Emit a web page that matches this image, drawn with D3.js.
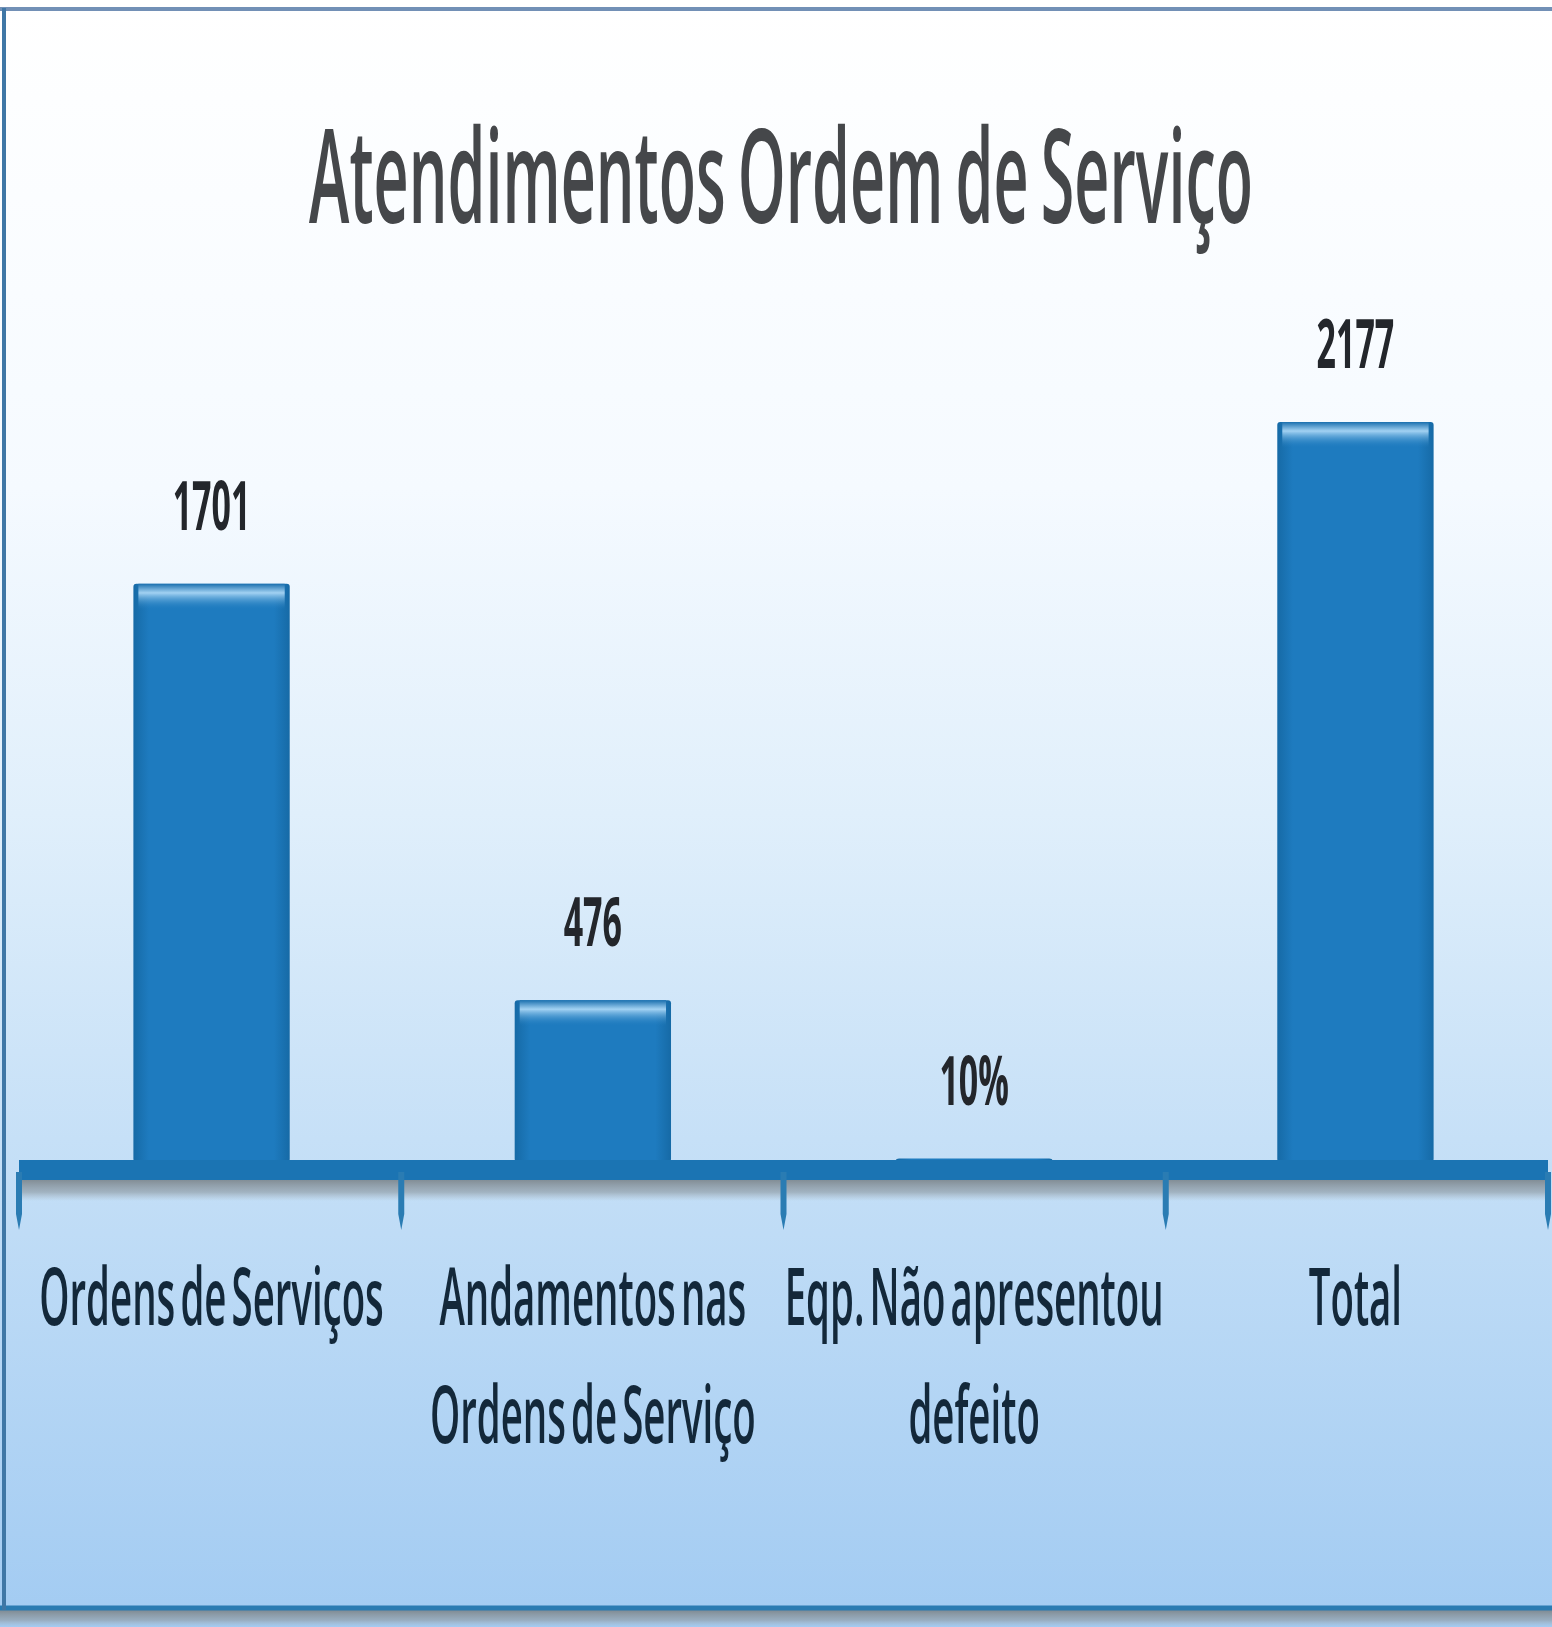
<!DOCTYPE html>
<html>
<head>
<meta charset="utf-8">
<script src="https://cdn.jsdelivr.net/npm/d3@7"></script>
<style>
  html, body { margin: 0; padding: 0; background: #fff; }
  svg { display: block; }
</style>
</head>
<body>
<div id="chart"></div>
<script>
const W = 1552, H = 1627;

// data
const categories = ["Ordens de Serviços", "Andamentos nas Ordens de Serviço", "Eqp. Não apresentou defeito", "Total"];
const categoryLines = [["Ordens de Serviços"], ["Andamentos nas", "Ordens de Serviço"], ["Eqp. Não apresentou", "defeito"], ["Total"]];
const values = [1701, 476, 10, 2177];
const valueLabels = ["1701", "476", "10%", "2177"];
const title = "Atendimentos Ordem de Serviço";

const svg = d3.select("#chart").append("svg")
    .attr("width", W)
    .attr("height", H);

const defs = svg.append("defs");

const bg = defs.append("linearGradient").attr("id", "bg")
    .attr("x1", 0).attr("y1", 0).attr("x2", 0).attr("y2", 1);
bg.append("stop").attr("offset", "0").attr("stop-color", "#ffffff");
bg.append("stop").attr("offset", "0.3").attr("stop-color", "#f5faff");
bg.append("stop").attr("offset", "0.5").attr("stop-color", "#e0effb");
bg.append("stop").attr("offset", "0.7").attr("stop-color", "#c6e0f7");
bg.append("stop").attr("offset", "1").attr("stop-color", "#a2cbf2");

const barGrad = defs.append("linearGradient").attr("id", "barGrad")
    .attr("x1", 0).attr("y1", 0).attr("x2", 1).attr("y2", 0);
barGrad.append("stop").attr("offset", "0").attr("stop-color", "#166aa6");
barGrad.append("stop").attr("offset", "0.1").attr("stop-color", "#1e7bbf");
barGrad.append("stop").attr("offset", "0.9").attr("stop-color", "#1e7bbf");
barGrad.append("stop").attr("offset", "1").attr("stop-color", "#166aa6");

const bevel = defs.append("linearGradient").attr("id", "bevel")
    .attr("x1", 0).attr("y1", 0).attr("x2", 0).attr("y2", 1);
bevel.append("stop").attr("offset", "0").attr("stop-color", "#1a6fae").attr("stop-opacity", 1);
bevel.append("stop").attr("offset", "0.35").attr("stop-color", "#a9d6f5").attr("stop-opacity", 0.95);
bevel.append("stop").attr("offset", "1").attr("stop-color", "#1e7bbf").attr("stop-opacity", 0);

const shadow = defs.append("linearGradient").attr("id", "shadow")
    .attr("x1", 0).attr("y1", 0).attr("x2", 0).attr("y2", 1);
shadow.append("stop").attr("offset", "0").attr("stop-color", "#7f8a92").attr("stop-opacity", 1);
shadow.append("stop").attr("offset", "0.6").attr("stop-color", "#93a0aa").attr("stop-opacity", 0.7);
shadow.append("stop").attr("offset", "1").attr("stop-color", "#a6b3bd").attr("stop-opacity", 0);

// background + frame
svg.append("rect").attr("width", W).attr("height", H).attr("fill", "url(#bg)");
svg.append("rect").attr("x", 0).attr("y", 1610).attr("width", W).attr("height", 17).attr("fill", "url(#shadow)");
svg.append("line").attr("x1", 0).attr("x2", W).attr("y1", 1608).attr("y2", 1608)
    .attr("stroke", "#2a7bb2").attr("stroke-width", 5);
svg.append("line").attr("x1", 0).attr("x2", W).attr("y1", 9).attr("y2", 9)
    .attr("stroke", "#7290b6").attr("stroke-width", 4);
svg.append("line").attr("x1", 4).attr("x2", 4).attr("y1", 8).attr("y2", 1610)
    .attr("stroke", "#3f77a6").attr("stroke-width", 4);

// scales
const x = d3.scaleBand()
    .domain(categories)
    .range([19, 1548])
    .paddingInner(0.59)
    .paddingOuter(0.3);

const y = d3.scaleLinear()
    .domain([0, 2177])
    .range([1162, 422]);

// squeeze text horizontally, the original font is a tall condensed face
function squeeze(g, sx) {
    g.attr("transform", function() {
        const cx = +this.getAttribute("data-x");
        return `translate(${cx},0) scale(${sx},1) translate(${-cx},0)`;
    });
}

// title
svg.append("g").attr("data-x", 781)
    .append("text")
    .attr("x", 781).attr("y", 223)
    .attr("text-anchor", "middle")
    .attr("font-family", "Open Sans, sans-serif")
    .attr("font-weight", 600)
    .attr("font-size", 130)
    .attr("word-spacing", -8)
    .attr("fill", "#45474a")
    .text(title)
    .each(function() {
        const w = this.getComputedTextLength();
        d3.select(this.parentNode).call(squeeze, 944 / w);
    });

// bars
const bars = svg.append("g");
bars.selectAll("rect.bar")
    .data(values)
    .join("rect")
    .attr("class", "bar")
    .attr("x", (d, i) => x(categories[i]))
    .attr("y", d => y(d))
    .attr("width", x.bandwidth())
    .attr("height", d => y(0) - y(d))
    .attr("rx", 3)
    .attr("fill", "url(#barGrad)");

bars.selectAll("rect.bevel")
    .data(values.filter(d => y(0) - y(d) > 20))
    .join("rect")
    .attr("class", "bevel")
    .attr("x", d => x(categories[values.indexOf(d)]) + 5)
    .attr("y", d => y(d))
    .attr("width", x.bandwidth() - 10)
    .attr("height", 26)
    .attr("fill", "url(#bevel)");

// axis band with shadow and tick marks
const axisG = svg.append("g");
axisG.append("rect")
    .attr("x", x.range()[0]).attr("y", y(0) + 17)
    .attr("width", x.range()[1] - x.range()[0]).attr("height", 22)
    .attr("fill", "url(#shadow)");
axisG.append("rect")
    .attr("x", x.range()[0]).attr("y", y(0) - 2)
    .attr("width", x.range()[1] - x.range()[0]).attr("height", 20)
    .attr("fill", "#1b74b3");

const tickXs = d3.range(categories.length + 1).map(i => x.range()[0] + i * (x.range()[1] - x.range()[0]) / categories.length);
axisG.selectAll("path.tick")
    .data(tickXs)
    .join("path")
    .attr("class", "tick")
    .attr("d", d => `M${d - 3},${y(0) + 10} L${d + 3},${y(0) + 10} L${d + 3},${y(0) + 52} L${d},${y(0) + 68} L${d - 3},${y(0) + 52} Z`)
    .attr("fill", "#2a7cb3");

// value labels
svg.selectAll("g.vlabel")
    .data(values)
    .join("g")
    .attr("class", "vlabel")
    .attr("data-x", (d, i) => x(categories[i]) + x.bandwidth() / 2)
    .append("text")
    .attr("x", (d, i) => x(categories[i]) + x.bandwidth() / 2)
    .attr("y", d => y(d) - 54)
    .attr("text-anchor", "middle")
    .attr("font-family", "Open Sans, sans-serif")
    .attr("font-weight", 700)
    .attr("font-size", 68)
    .attr("fill", "#23262b")
    .text((d, i) => valueLabels[i]);
svg.selectAll("g.vlabel").call(squeeze, 0.5);

// category labels
const cat = svg.selectAll("g.clabel")
    .data(categories)
    .join("g")
    .attr("class", "clabel")
    .attr("data-x", d => x(d) + x.bandwidth() / 2);

cat.append("text")
    .attr("text-anchor", "middle")
    .attr("font-family", "Open Sans, sans-serif")
    .attr("font-weight", 600)
    .attr("font-size", 80)
    .attr("word-spacing", -10)
    .attr("fill", "#13283a")
    .selectAll("tspan")
    .data((d, i) => categoryLines[i].map(t => ({t, cx: x(d) + x.bandwidth() / 2})))
    .join("tspan")
    .attr("x", d => d.cx)
    .attr("y", (d, j) => 1325 + j * 118)
    .text(d => d.t);
cat.call(squeeze, 0.48);
</script>
</body>
</html>
